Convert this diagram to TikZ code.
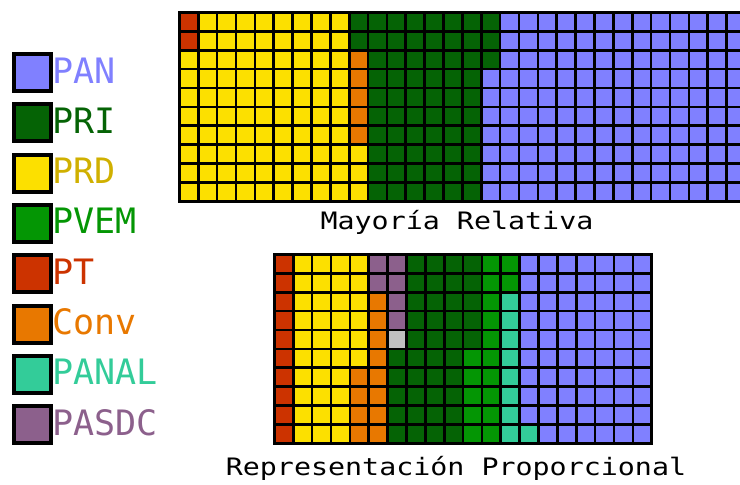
\documentclass[tikz,border=0pt]{standalone}
\usepackage{fontspec}
\newfontfamily\legfont{DejaVu Sans Mono}
\newfontfamily\lblfamily[FakeStretch=1.18]{DejaVu Sans Mono}
\definecolor{pan}{HTML}{8080FF}
\definecolor{pri}{HTML}{056305}
\definecolor{prd}{HTML}{FCE000}
\definecolor{prdtext}{HTML}{D0B000}
\definecolor{pvem}{HTML}{049604}
\definecolor{pt}{HTML}{CC3300}
\definecolor{conv}{HTML}{E87800}
\definecolor{panal}{HTML}{33CC99}
\definecolor{pasdc}{HTML}{8C608C}
\definecolor{vac}{HTML}{C0C0C0}
\tikzset{
  frame/.style={fill=black},
  seat/.style={fill=#1},
  swatch/.style={draw=black, line width=4pt, fill=#1},
  legtext/.style={anchor=base west, inner sep=0pt, text=#1, font=\legfont\fontsize{35}{40}\selectfont},
  caption/.style={anchor=base, inner sep=0pt, text=black, font=\lblfamily\fontsize{24}{28}\selectfont}
}
\begin{document}
\begin{tikzpicture}[x=1pt,y=-1pt]
\useasboundingbox (0,0) rectangle (740,485);
\clip (0,0) rectangle (740,485);
% ---- Mayoria Relativa grid (30 x 10) ----
\fill[frame] (178,11) rectangle (760,202.7);
\foreach \ca/\cb/\ra/\rb/\cl in {
  0/0/0/1/pt, 0/0/2/9/prd, 1/8/0/9/prd,
  9/9/0/1/pri, 9/9/2/6/conv, 9/9/7/9/prd,
  10/15/0/9/pri, 16/16/0/2/pri, 16/16/3/9/pan, 17/29/0/9/pan}{
  \foreach \c in {\ca,...,\cb}{
    \foreach \r in {\ra,...,\rb}{
      \fill[seat=\cl] ({180.7+18.87*\c},{13.7+18.9*\r}) rectangle ++(16.2,16.2);
    }
  }
}
% ---- Representacion Proporcional grid (20 x 10) ----
\fill[frame] (273,253) rectangle (653.1,444.7);
\foreach \ca/\cb/\ra/\rb/\cl in {
  0/0/0/9/pt, 1/3/0/9/prd, 4/4/0/5/prd, 4/4/6/9/conv,
  5/5/0/1/pasdc, 5/5/2/9/conv,
  6/6/0/3/pasdc, 6/6/4/4/vac, 6/6/5/9/pri,
  7/9/0/9/pri, 10/10/0/4/pri, 10/10/5/9/pvem,
  11/11/0/9/pvem, 12/12/0/1/pvem, 12/12/2/9/panal,
  13/13/0/8/pan, 13/13/9/9/panal, 14/19/0/9/pan}{
  \foreach \c in {\ca,...,\cb}{
    \foreach \r in {\ra,...,\rb}{
      \fill[seat=\cl] ({275.7+18.87*\c},{255.7+18.9*\r}) rectangle ++(16.2,16.2);
    }
  }
}
% ---- captions ----
\node[caption] (mr) at (457,229) {Mayoría Relativa};
\node[caption] (rp) at (456,475) {Representación Proporcional};
% ---- legend ----
\foreach \i/\cl/\tc/\nm in {0/pan/pan/PAN, 1/pri/pri/PRI, 2/prd/prdtext/PRD,
  3/pvem/pvem/PVEM, 4/pt/pt/PT, 5/conv/conv/Conv, 6/panal/panal/PANAL,
  7/pasdc/pasdc/PASDC}{
  \draw[swatch=\cl] (14,{54+50.3*\i}) rectangle (51,{91+50.3*\i});
  \node[legtext=\tc] (leg\i) at (52,{83+50.3*\i}) {\nm};
}
\end{tikzpicture}
\end{document}
